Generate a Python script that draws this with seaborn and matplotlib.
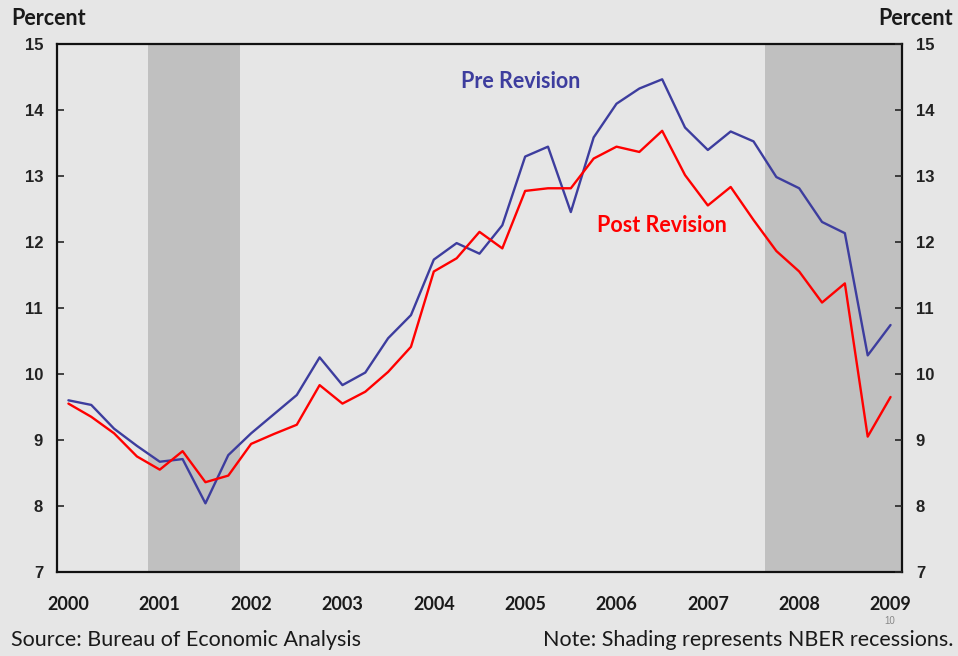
import matplotlib
matplotlib.use("Agg")
import matplotlib.pyplot as plt
import seaborn as sns
import pandas as pd
import numpy as np

# quarterly data, 2000Q1 .. 2009Q1
start_year = 2000
pre_revision = [9.60, 9.53, 9.17, 8.91, 8.67, 8.71, 8.04, 8.77,
                9.10, 9.39, 9.68, 10.25, 9.83, 10.02, 10.54, 10.89,
                11.73, 11.98, 11.82, 12.25, 13.29, 13.44, 12.45, 13.58,
                14.09, 14.32, 14.46, 13.73, 13.39, 13.67, 13.52, 12.98,
                12.81, 12.30, 12.13, 10.28, 10.74]
post_revision = [9.55, 9.35, 9.10, 8.75, 8.55, 8.83, 8.36, 8.46,
                 8.94, 9.09, 9.23, 9.83, 9.55, 9.73, 10.03, 10.41,
                 11.55, 11.75, 12.15, 11.90, 12.77, 12.81, 12.81, 13.26,
                 13.44, 13.36, 13.68, 13.01, 12.55, 12.83, 12.33, 11.86,
                 11.55, 11.08, 11.37, 9.05, 9.65]
year_labels = [str(y) for y in range(2000, 2010)]
recessions = [(2001.0, 2002.0), (2007.75, 2009.25)]

quarters = start_year + (np.arange(len(pre_revision)) + 0.5) / 4
df = pd.DataFrame({
    "date": np.concatenate([quarters, quarters]),
    "value": pre_revision + post_revision,
    "series": ["Pre Revision"] * len(pre_revision) + ["Post Revision"] * len(post_revision),
})

sns.set_style("white")
plt.rcParams['font.family'] = ['Liberation Sans', 'DejaVu Sans']
bg = "#e6e6e6"
blue = "#3d3d9e"
red = "#ff0000"
ink = "#1a1a1a"

fig = plt.figure(figsize=(9.58, 6.56), dpi=100, facecolor=bg)
ax = fig.add_axes([0.0595, 0.128, 0.882, 0.8055])
ax.set_facecolor(bg)

for a, b in recessions:
    ax.axvspan(a, b, color="#c0c0c0", lw=0, zorder=0)

sns.lineplot(data=df, x="date", y="value", hue="series",
             palette={"Pre Revision": blue, "Post Revision": red},
             linewidth=1.7, legend=False, ax=ax, zorder=3)

ax.set_xlim(2000, 2009.25)
ax.set_ylim(7, 15)
ax.set_xlabel("")
ax.set_ylabel("")

ax.set_xticks(range(2000, 2010))
ax.set_xticklabels([])
ax.set_xticks(np.arange(2000, 2010) + 0.125, minor=True)
ax.set_xticklabels(year_labels, minor=True, fontsize=13, fontfamily="Lato",
                   fontweight="bold", color=ink)
ax.tick_params(axis="x", which="major", direction="in", length=6, width=1.2, color="#222222")
ax.tick_params(axis="x", which="minor", length=0, pad=17)

ax.set_yticks(range(7, 16))
ax.set_yticklabels([str(v) for v in range(7, 16)], fontweight="bold")
ax.tick_params(axis="y", direction="in", length=5, width=1.2, pad=10,
               labelsize=12, labelcolor="#222222")
for s in ax.spines.values():
    s.set_color("#111111")
    s.set_linewidth(1.6)

ax2 = ax.twinx()
ax2.set_ylim(7, 15)
ax2.set_yticks(range(7, 16))
ax2.set_yticklabels([str(v) for v in range(7, 16)], fontweight="bold")
ax2.tick_params(axis="y", direction="in", length=5, width=1.2, pad=10,
                labelsize=12, labelcolor="#222222")
for s in ax2.spines.values():
    s.set_visible(False)

ax.text(2005.08, 14.43, "Pre Revision", color=blue, fontsize=15.5,
        fontweight="bold", fontfamily="Lato", ha="center", va="center")
ax.text(2006.62, 12.25, "Post Revision", color=red, fontsize=15.5,
        fontweight="bold", fontfamily="Lato", ha="center", va="center")

fig.text(0.012, 0.972, "Percent", fontsize=15.5, fontweight="bold", fontfamily="Lato",
         color=ink, ha="left", va="center")
fig.text(0.995, 0.972, "Percent", fontsize=15.5, fontweight="bold", fontfamily="Lato",
         color=ink, ha="right", va="center")
fig.text(0.012, 0.024, "Source: Bureau of Economic Analysis", fontsize=15.5,
         fontfamily="Lato", color=ink, ha="left", va="center")
fig.text(0.995, 0.024, "Note: Shading represents NBER recessions.", fontsize=15.5,
         fontfamily="Lato", color=ink, ha="right", va="center")
fig.text(0.929, 0.054, "10", fontsize=7, color="#888888", ha="center", va="center")

fig.savefig("out.png", dpi=100, facecolor=bg)
